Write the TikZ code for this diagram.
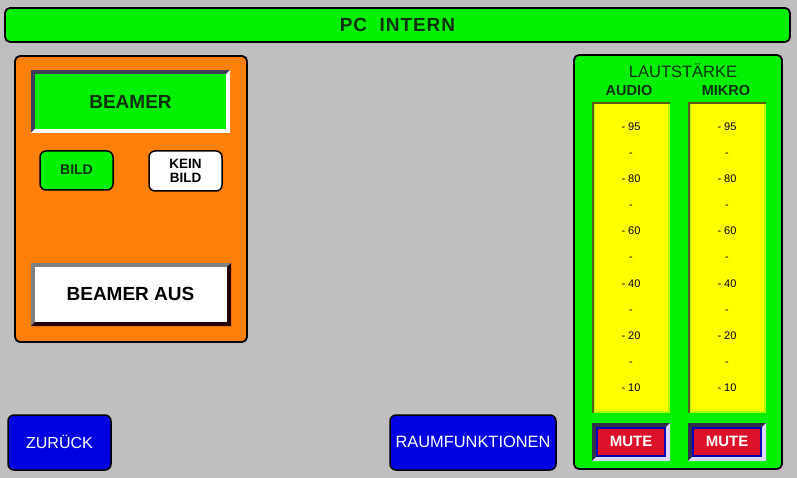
\documentclass[tikz,border=0pt]{standalone}
\usepackage{fontspec}
\setmainfont{Liberation Sans}
\begin{document}
\begin{tikzpicture}[x=1pt,y=-1pt,
  panel/.style={draw=black,line width=1.8pt,rounded corners=5pt},
  roundbtn/.style={draw=black,line width=1.5pt,rounded corners=6pt},
  lbl/.style={inner sep=0pt,anchor=center},
  scalelbl/.style={inner sep=0pt,anchor=base,font=\fontsize{11}{12}\selectfont}]
\definecolor{panelgrey}{RGB}{192,190,192}
\definecolor{brightgreen}{RGB}{0,240,0}
\definecolor{orng}{RGB}{255,128,8}
\definecolor{btnblue}{RGB}{0,0,224}
\definecolor{mutered}{RGB}{220,16,40}
\definecolor{yel}{RGB}{255,255,0}
\definecolor{darkgreen}{RGB}{10,50,10}
\definecolor{bevdark}{RGB}{60,60,90}
\definecolor{olive}{RGB}{90,90,20}
\useasboundingbox (0,0) rectangle (797,478);
\fill[panelgrey] (0,0) rectangle (797,478);
% title bar
\draw[panel,fill=brightgreen] (5,8) rectangle (790,42);
\node[lbl,font=\fontsize{19}{21}\selectfont\bfseries\addfontfeature{LetterSpace=5},text=darkgreen] (title) at (397.5,24.5) {PC\ \ INTERN};
% orange panel
\draw[panel,fill=orng] (15,56) rectangle (247,342);
% BEAMER button (bevel)
\fill[bevdark] (31,70) rectangle (230,133);
\fill[white] (230,70) -- (230,133) -- (31,133) -- (35,129) -- (226,129) -- (226,74) -- cycle;
\fill[brightgreen] (35,74) rectangle (226,129);
\node[lbl,font=\fontsize{19}{21}\selectfont\bfseries,text=darkgreen] (beamer) at (130.5,101.5) {BEAMER};
% BILD / KEIN BILD
\draw[roundbtn,fill=brightgreen] (40,151) rectangle (113,190);
\node[lbl,font=\fontsize{14}{16}\selectfont\bfseries,text=darkgreen] (bild) at (76.5,170) {BILD};
\draw[roundbtn,fill=white] (149,151) rectangle (222,191);
\node[lbl,font=\fontsize{13.5}{15}\selectfont\bfseries,align=center] (keinbild) at (185.5,171) {KEIN\\[-1pt]BILD};
% BEAMER AUS
\fill[gray] (31,263) rectangle (231,326);
\fill[black!85!red] (231,263) -- (231,326) -- (31,326) -- (35,322) -- (227,322) -- (227,267) -- cycle;
\fill[white] (35,267) rectangle (227,322);
\node[lbl,font=\fontsize{19}{21}\selectfont\bfseries] (beameraus) at (130.5,294) {BEAMER AUS};
% bottom buttons
\draw[roundbtn,fill=btnblue] (8,415) rectangle (111,470);
\node[lbl,font=\fontsize{16}{18}\selectfont,text=white] (zurueck) at (59.5,442) {ZURÜCK};
\draw[roundbtn,fill=btnblue] (390,415) rectangle (556,470);
\node[lbl,font=\fontsize{16.4}{18}\selectfont,text=white] (raum) at (473,442) {RAUMFUNKTIONEN};
% right green panel
\draw[panel,fill=brightgreen] (574,55) rectangle (782,469);
\node[lbl,font=\fontsize{16.5}{18}\selectfont,text=darkgreen] (laut) at (683,71) {LAUTSTÄRKE};
\node[lbl,font=\fontsize{14.5}{16}\selectfont\bfseries,text=darkgreen] (audio) at (629,90.5) {AUDIO};
\node[lbl,font=\fontsize{14.5}{16}\selectfont\bfseries,text=darkgreen] (mikro) at (726,90.5) {MIKRO};
% yellow bars
\foreach \x/\n in {592/a,688/m}{
  \fill[olive] (\x,102) rectangle (\x+78,413);
  \fill[yel!70!brightgreen] (\x+2,104) rectangle (\x+78,413);
  \fill[yel] (\x+3,104) rectangle (\x+76,411);
  \foreach \y/\t in {127/- 95,153/-,179/- 80,205/-,231/- 60,257/-,283/- 40,309/-,335/- 20,361/-,387/- 10}{
    \node[scalelbl] (s\n\y) at (\x+39,\y+4) {\t};
  }
  % mute button
  \fill[bevdark!80!black] (\x,423) rectangle (\x+78,461);
  \fill[white!85!blue] (\x+78,423) -- (\x+78,461) -- (\x,461) -- (\x+4,457) -- (\x+74,457) -- (\x+74,427) -- cycle;
  \fill[blue!70!black] (\x+4,427) rectangle (\x+74,457);
  \fill[mutered] (\x+6,429) rectangle (\x+72,455);
  \node[lbl,font=\fontsize{15}{17}\selectfont\bfseries,text=white] (mute\n) at (\x+39,441) {MUTE};
}
\end{tikzpicture}
\end{document}
